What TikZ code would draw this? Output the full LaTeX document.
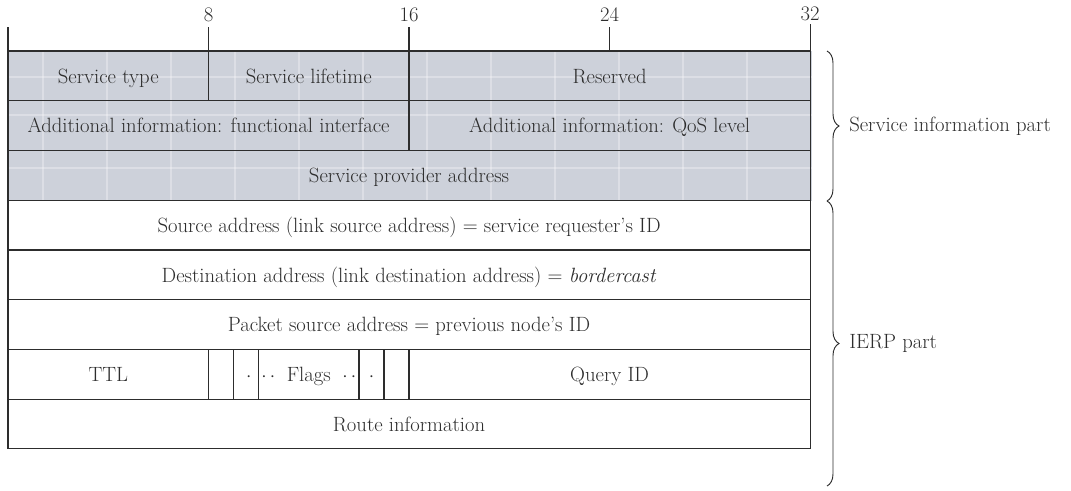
\documentclass[tikz,border=0pt]{standalone}
\usepackage{fontspec}
\setmainfont{Latin Modern Roman}
\usetikzlibrary{positioning,decorations.pathreplacing}

\definecolor{greyrow}{RGB}{205,209,218}
\definecolor{ink}{RGB}{45,45,45}

\begin{document}
\begin{tikzpicture}[x=0.75pt, y=-0.75pt,
	f/.style={draw=ink, line width=0.9pt, inner sep=0pt, outer sep=0pt,
		minimum height=37.3pt, text height=12pt, text depth=1pt,
		text=ink, font=\fontsize{15.5}{17}\selectfont},
	tick/.style={draw=ink, line width=0.9pt},
	num/.style={above, text=ink, font=\fontsize{15.5}{17}\selectfont},
	tex/.style={white, opacity=0.3, line width=1.2pt},
	br/.style={draw=ink, line width=0.7pt, decorate, decoration={brace, amplitude=9pt}},
	part/.style={right, text=ink, font=\fontsize{15.5}{17}\selectfont}]

	\useasboundingbox (0,0) rectangle (1071,490);

	% grey background of the service part
	\fill [greyrow] (8,51) rectangle (812,201);
	\foreach \x in {43,107,171,235,299,363,427,491,555,619,683,747}
		\draw [tex] (\x,51) -- (\x,201);
	\foreach \y in {77,115,168}
		\draw [tex] (8,\y) -- (812,\y);

	% service information part
	\node [f, minimum width=150.4pt, anchor=north west] (stype) at (8,51) {Service type};
	\node [f, minimum width=150.4pt, right=0pt of stype] (slife) {Service lifetime};
	\node [f, minimum width=300.8pt, right=0pt of slife] (resv) {Reserved};
	\node [f, minimum width=300.8pt, below=0pt of stype.south west, anchor=north west] (ifunc) {Additional information: functional interface};
	\node [f, minimum width=300.8pt, right=0pt of ifunc] (iqos) {Additional information: QoS level};
	\node [f, minimum width=601.6pt, below=0pt of ifunc.south west, anchor=north west] (spaddr) {Service provider address};

	% IERP part
	\node [f, minimum width=601.6pt, below=0pt of spaddr] (srcaddr) {Source address (link source address) = service requester's ID};
	\node [f, minimum width=601.6pt, below=0pt of srcaddr] (dstaddr) {Destination address (link destination address) = \textit{bordercast}};
	\node [f, minimum width=601.6pt, below=0pt of dstaddr] (pktaddr) {Packet source address = previous node's ID};
	\node [f, minimum width=150.4pt, below=0pt of pktaddr.south west, anchor=north west] (ttl) {TTL};
	\node [f, minimum width=18.8pt, right=0pt of ttl] (fl1) {};
	\node [f, minimum width=18.8pt, right=0pt of fl1] (fl2) {\hspace{4pt}$\cdot$};
	\node [f, minimum width=75.2pt, right=0pt of fl2] (flags) {\makebox[71pt]{$\cdot\,\cdot$\hfill Flags\hfill$\cdot\,\cdot$}};
	\node [f, minimum width=18.8pt, right=0pt of flags] (fl3) {$\cdot$\hspace{4pt}};
	\node [f, minimum width=18.8pt, right=0pt of fl3] (fl4) {};
	\node [f, minimum width=300.8pt, right=0pt of fl4] (qid) {Query ID};
	\node [f, minimum width=601.6pt, below=0pt of ttl.south west, anchor=north west] (route) {Route information};

	% bit ruler
	\draw [tick] (stype.north west) -- ++(0,-24);
	\draw [tick] (stype.north east) -- ++(0,-24) node [num] (b8) {8};
	\draw [tick] (slife.north east) -- ++(0,-24) node [num] (b16) {16};
	\draw [tick] (resv.north) -- ++(0,-24) node [num] (b24) {24};
	\draw [tick] (resv.north east) -- ++(0,-27) node [num, inner sep=2pt] (b32) {32};

	% braces
	\coordinate (s1) at (827,51);
	\coordinate (s2) at (827,201);
	\coordinate (i2) at (827,486);
	\draw [br] (s1) -- (s2) node [part, midway, xshift=13pt] (spart) {Service information part};
	\draw [br] (s2) -- (i2) node [part, midway, xshift=13pt] (ipart) {IERP part};
\end{tikzpicture}
\end{document}
